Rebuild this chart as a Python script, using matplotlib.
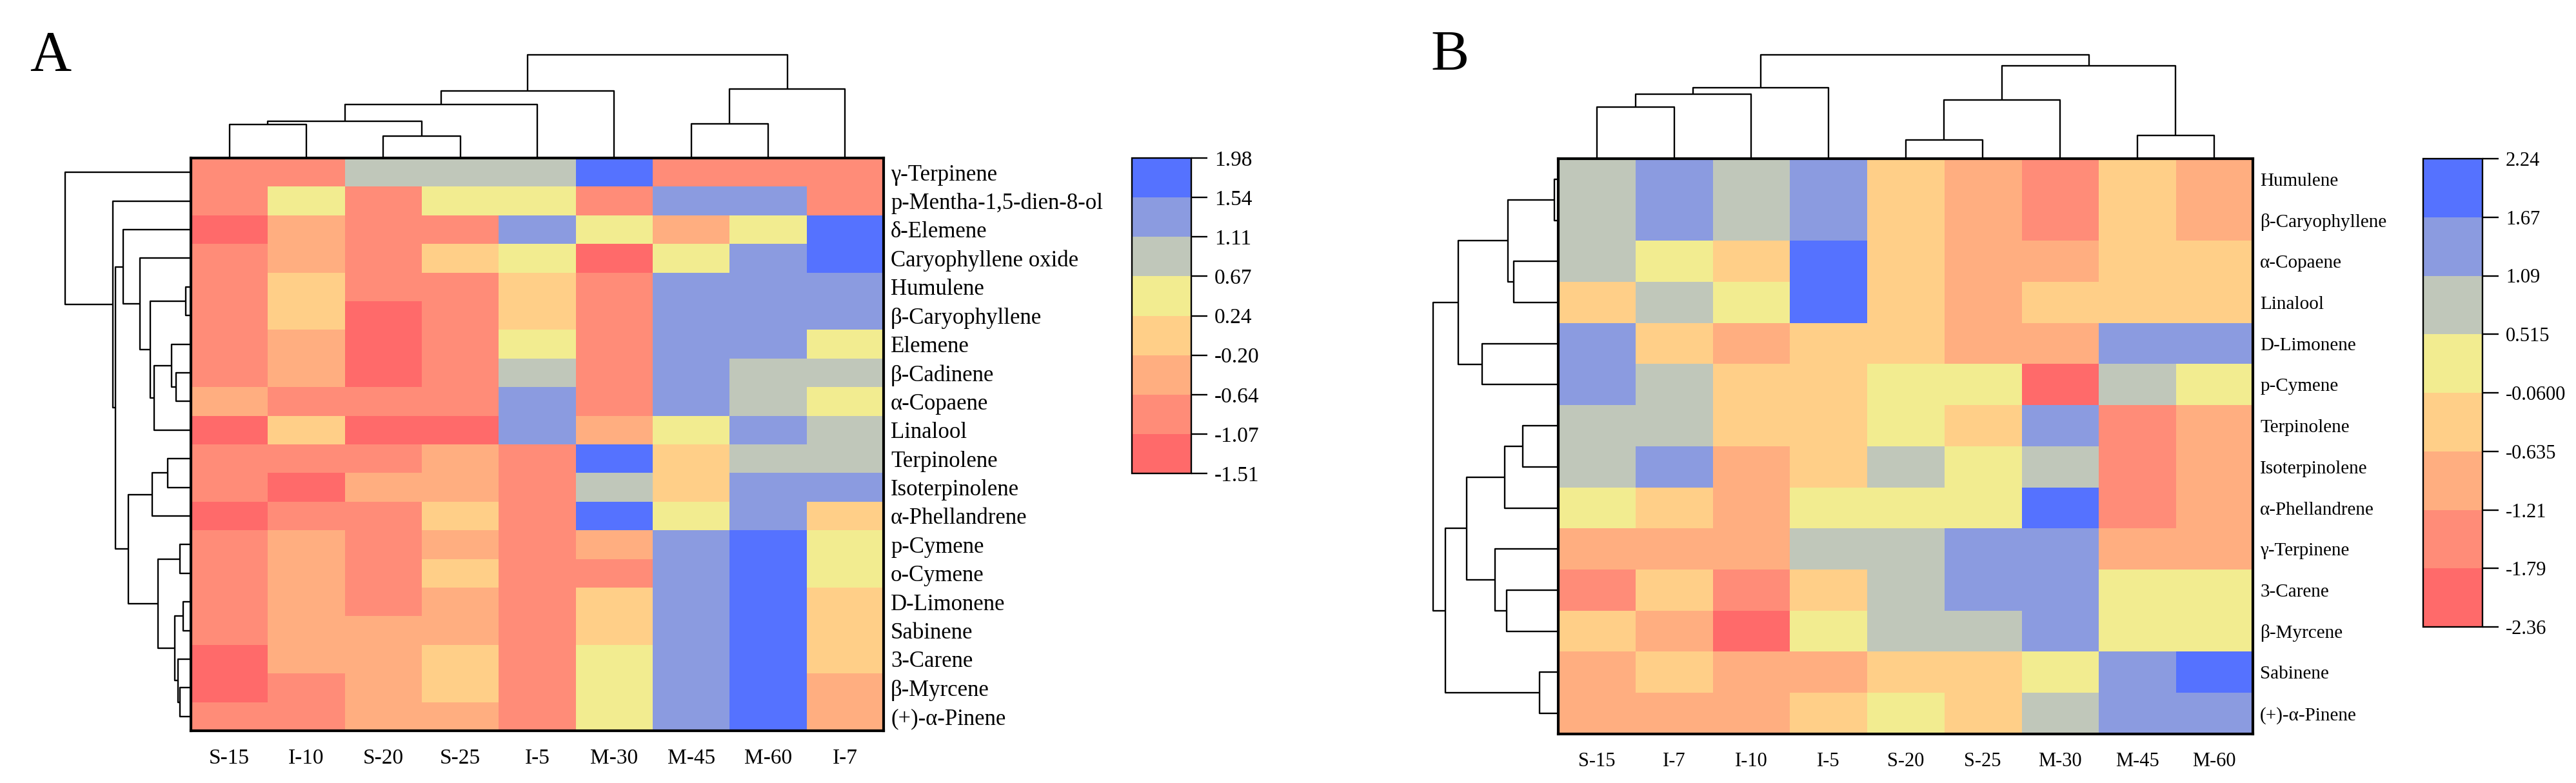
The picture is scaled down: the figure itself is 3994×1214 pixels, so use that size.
import numpy as np
import matplotlib
matplotlib.use("Agg")
import matplotlib.pyplot as plt
from matplotlib.colors import ListedColormap, BoundaryNorm

plt.rcParams["font.family"] = ["Liberation Serif", "DejaVu Serif"]

# ---- data -------------------------------------------------------------
cols_a = ["S-15", "I-10", "S-20", "S-25", "I-5", "M-30", "M-45", "M-60", "I-7"]
rows_a = ["γ-Terpinene", "p-Mentha-1,5-dien-8-ol", "δ-Elemene", "Caryophyllene oxide",
          "Humulene", "β-Caryophyllene", "Elemene", "β-Cadinene", "α-Copaene", "Linalool",
          "Terpinolene", "Isoterpinolene", "α-Phellandrene", "p-Cymene", "o-Cymene",
          "D-Limonene", "Sabinene", "3-Carene", "β-Myrcene", "(+)-α-Pinene"]
vals_a = [
    [-0.85, -0.85, 0.9, 0.9, 0.9, 1.75, -0.85, -0.85, -0.85],
    [-0.85, 0.45, -0.85, 0.45, 0.45, -0.85, 1.3, 1.3, -0.85],
    [-1.3, -0.4, -0.85, -0.85, 1.3, 0.45, -0.4, 0.45, 1.75],
    [-0.85, -0.4, -0.85, 0.0, 0.45, -1.3, 0.45, 1.3, 1.75],
    [-0.85, 0.0, -0.85, -0.85, 0.0, -0.85, 1.3, 1.3, 1.3],
    [-0.85, 0.0, -1.3, -0.85, 0.0, -0.85, 1.3, 1.3, 1.3],
    [-0.85, -0.4, -1.3, -0.85, 0.45, -0.85, 1.3, 1.3, 0.45],
    [-0.85, -0.4, -1.3, -0.85, 0.9, -0.85, 1.3, 0.9, 0.9],
    [-0.4, -0.85, -0.85, -0.85, 1.3, -0.85, 1.3, 0.9, 0.45],
    [-1.3, 0.0, -1.3, -1.3, 1.3, -0.4, 0.45, 1.3, 0.9],
    [-0.85, -0.85, -0.85, -0.4, -0.85, 1.75, 0.0, 0.9, 0.9],
    [-0.85, -1.3, -0.4, -0.4, -0.85, 0.9, 0.0, 1.3, 1.3],
    [-1.3, -0.85, -0.85, 0.0, -0.85, 1.75, 0.45, 1.3, 0.0],
    [-0.85, -0.4, -0.85, -0.4, -0.85, -0.4, 1.3, 1.75, 0.45],
    [-0.85, -0.4, -0.85, 0.0, -0.85, -0.85, 1.3, 1.75, 0.45],
    [-0.85, -0.4, -0.85, -0.4, -0.85, 0.0, 1.3, 1.75, 0.0],
    [-0.85, -0.4, -0.4, -0.4, -0.85, 0.0, 1.3, 1.75, 0.0],
    [-1.3, -0.4, -0.4, 0.0, -0.85, 0.45, 1.3, 1.75, 0.0],
    [-1.3, -0.85, -0.4, 0.0, -0.85, 0.45, 1.3, 1.75, -0.4],
    [-0.85, -0.85, -0.4, -0.4, -0.85, 0.45, 1.3, 1.75, -0.4],
]
bounds_a = [-1.51, -1.07, -0.64, -0.20, 0.24, 0.67, 1.11, 1.54, 1.98]
ticks_a = ["-1.51", "-1.07", "-0.64", "-0.20", "0.24", "0.67", "1.11", "1.54", "1.98"]

cols_b = ["S-15", "I-7", "I-10", "I-5", "S-20", "S-25", "M-30", "M-45", "M-60"]
rows_b = ["Humulene", "β-Caryophyllene", "α-Copaene", "Linalool", "D-Limonene",
          "p-Cymene", "Terpinolene", "Isoterpinolene", "α-Phellandrene", "γ-Terpinene",
          "3-Carene", "β-Myrcene", "Sabinene", "(+)-α-Pinene"]
vals_b = [
    [0.8, 1.4, 0.8, 1.4, -0.35, -0.9, -1.5, -0.35, -0.9],
    [0.8, 1.4, 0.8, 1.4, -0.35, -0.9, -1.5, -0.35, -0.9],
    [0.8, 0.2, -0.35, 2.0, -0.35, -0.9, -0.9, -0.35, -0.35],
    [-0.35, 0.8, 0.2, 2.0, -0.35, -0.9, -0.35, -0.35, -0.35],
    [1.4, -0.35, -0.9, -0.35, -0.35, -0.9, -0.9, 1.4, 1.4],
    [1.4, 0.8, -0.35, -0.35, 0.2, 0.2, -2.1, 0.8, 0.2],
    [0.8, 0.8, -0.35, -0.35, 0.2, -0.35, 1.4, -1.5, -0.9],
    [0.8, 1.4, -0.9, -0.35, 0.8, 0.2, 0.8, -1.5, -0.9],
    [0.2, -0.35, -0.9, 0.2, 0.2, 0.2, 2.0, -1.5, -0.9],
    [-0.9, -0.9, -0.9, 0.8, 0.8, 1.4, 1.4, -0.9, -0.9],
    [-1.5, -0.35, -1.5, -0.35, 0.8, 1.4, 1.4, 0.2, 0.2],
    [-0.35, -0.9, -2.1, 0.2, 0.8, 0.8, 1.4, 0.2, 0.2],
    [-0.9, -0.35, -0.9, -0.9, -0.35, -0.35, 0.2, 1.4, 2.0],
    [-0.9, -0.9, -0.9, -0.35, 0.2, -0.35, 0.8, 1.4, 1.4],
]
bounds_b = [-2.36, -1.79, -1.21, -0.635, -0.06, 0.515, 1.09, 1.67, 2.24]
ticks_b = ["-2.36", "-1.79", "-1.21", "-0.635", "-0.0600", "0.515", "1.09", "1.67", "2.24"]

# dendrogram merges (left, right, height); ids >= n are earlier merges
col_tree_a = [(0, 1, 52), (2, 3, 34), (9, 10, 57), (11, 4, 83), (12, 5, 104),
              (6, 7, 53), (14, 8, 107), (13, 15, 160)]
row_tree_a = [(4, 5, 8.3), (7, 8, 22.7), (6, 21, 30), (22, 9, 56.7), (20, 23, 63.3),
              (3, 24, 79), (2, 25, 105), (10, 11, 35.7), (27, 12, 60), (13, 14, 16.7),
              (15, 16, 11.7), (18, 19, 16.7), (17, 31, 20), (30, 32, 25), (29, 33, 51),
              (28, 34, 96.7), (26, 35, 116.7), (1, 36, 120.7), (0, 37, 195)]
col_tree_b = [(0, 1, 80), (9, 2, 100), (10, 3, 110), (4, 5, 29), (12, 6, 91),
              (7, 8, 36), (13, 14, 144), (11, 15, 161)]
row_tree_b = [(0, 1, 6), (2, 3, 68.7), (14, 15, 77.7), (4, 5, 118), (16, 17, 155),
              (6, 7, 55), (19, 8, 83), (10, 11, 80), (9, 21, 97.7), (20, 22, 142),
              (12, 13, 29), (23, 24, 175), (18, 25, 194)]

colors = ["#FF6A6A", "#FF8C78", "#FFAE80", "#FFCF88", "#F2EC90", "#C0C7BA", "#8B9BE0", "#5572FF"]

# ---- layout -----------------------------------------------------------
W, H = 3994, 1214
fig = plt.figure(figsize=(W / 100, H / 100), dpi=100)


def px_axes(x0, y0, x1, y1):
    return fig.add_axes([x0 / W, 1 - y1 / H, (x1 - x0) / W, (y1 - y0) / H])


def draw_tree(ax, merges, n, side):
    pos = {i: float(i) for i in range(n)}
    hgt = {i: 0.0 for i in range(n)}
    for k, (a, b, h) in enumerate(merges):
        xs = [pos[a], pos[a], pos[b], pos[b]]
        ys = [hgt[a], h, h, hgt[b]]
        if side == "top":
            ax.plot(xs, ys, color="black", lw=1.7, solid_capstyle="butt")
        else:
            ax.plot(ys, xs, color="black", lw=1.7, solid_capstyle="butt")
        pos[n + k] = (pos[a] + pos[b]) / 2
        hgt[n + k] = h
    ax.axis("off")


def panel(box, vals, rows, cols, bounds, ticks, col_tree, row_tree, cbox,
          row_fs, col_fs, cb_fs, label, label_xy):
    x0, y0, x1, y1 = box
    cmap = ListedColormap(colors)
    norm = BoundaryNorm(bounds, cmap.N)
    nr, nc = len(rows), len(cols)

    ax = px_axes(x0, y0, x1, y1)
    im = ax.imshow(np.array(vals), cmap=cmap, norm=norm, aspect="auto",
                   interpolation="nearest")
    ax.set_xticks(range(nc))
    ax.set_xticklabels(cols, fontsize=col_fs)
    ax.set_yticks(range(nr))
    ax.set_yticklabels(rows, fontsize=row_fs)
    ax.yaxis.tick_right()
    ax.tick_params(axis="x", length=0, pad=20)
    ax.tick_params(axis="y", length=0, pad=8)
    for s in ax.spines.values():
        s.set_linewidth(3)

    top = px_axes(x0, y0 - 175, x1, y0)
    draw_tree(top, col_tree, nc, "top")
    top.set_xlim(-0.5, nc - 0.5)
    top.set_ylim(0, 175)

    left = px_axes(x0 - 210, y0, x0, y1)
    draw_tree(left, row_tree, nr, "left")
    left.set_xlim(210, 0)
    left.set_ylim(nr - 0.5, -0.5)

    cax = px_axes(*cbox)
    cb = fig.colorbar(im, cax=cax, ticks=bounds)
    cb.ax.set_yticklabels(ticks, fontsize=cb_fs)
    cb.ax.tick_params(length=18, width=1.7, pad=8)
    cb.outline.set_linewidth(1.7)

    fig.text(label_xy[0] / W, 1 - label_xy[1] / H, label, fontsize=64,
             va="baseline", ha="left")


panel((296, 245, 1370, 1133), vals_a, rows_a, cols_a, bounds_a, ticks_a,
      col_tree_a, row_tree_a, (1755, 245, 1847, 734), 25, 24, 24, "A", (46, 109))
panel((2416, 246, 3493, 1138), vals_b, rows_b, cols_b, bounds_b, ticks_b,
      col_tree_b, row_tree_b, (3757, 246, 3849, 972), 21, 22, 22, "B", (2218, 108))

fig.savefig("out.png", dpi=100)
